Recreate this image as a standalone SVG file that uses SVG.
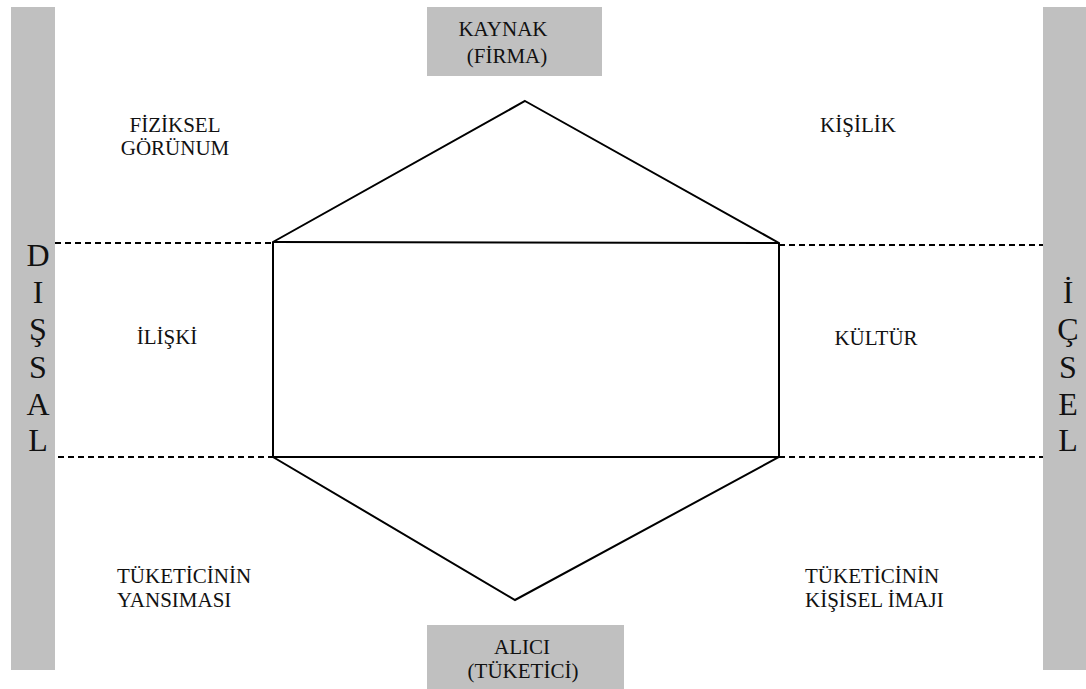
<svg xmlns="http://www.w3.org/2000/svg" width="1086" height="689" viewBox="0 0 1086 689">
<style>
.bar{fill:#c0c0c0}
text{font-family:"Liberation Serif",serif;fill:#111}
.t{font-size:21px}
.big{font-size:32px;text-anchor:middle}
.m{text-anchor:middle}
.solid{fill:none;stroke:#000;stroke-width:2;stroke-linejoin:miter}
.dash{fill:none;stroke:#000;stroke-width:2;stroke-dasharray:6 4}
</style>
<rect width="1086" height="689" fill="#fff"/>
<g id="disal">
<rect class="bar" x="11" y="7" width="44" height="663"/>
<text class="big" x="38" y="266">D</text>
<text class="big" x="38" y="303">I</text>
<text class="big" x="38" y="340">Ş</text>
<text class="big" x="38" y="378">S</text>
<text class="big" x="38" y="415">A</text>
<text class="big" x="38" y="451">L</text>
</g>
<g id="icsel">
<rect class="bar" x="1043" y="7" width="43" height="663"/>
<text class="big" x="1068" y="303">İ</text>
<text class="big" x="1068" y="340">Ç</text>
<text class="big" x="1068" y="378">S</text>
<text class="big" x="1068" y="415">E</text>
<text class="big" x="1068" y="451">L</text>
</g>
<g id="kaynak">
<rect class="bar" x="427" y="7" width="175" height="69"/>
<text class="t m" x="503" y="36">KAYNAK</text>
<text class="t m" x="507" y="63">(FİRMA)</text>
</g>
<g id="alici">
<rect class="bar" x="427" y="625" width="197" height="64"/>
<text class="t m" x="522" y="654">ALICI</text>
<text class="t m" x="523" y="678">(TÜKETİCİ)</text>
</g>
<g id="hexagon">
<polygon class="solid" points="525,101 779,243 779,457 515,600 273,457 273,242"/>
<line class="solid" x1="273" y1="242" x2="779" y2="243"/>
<line class="solid" x1="273" y1="457" x2="779" y2="457"/>
</g>
<g id="connectors">
<line class="dash" x1="55" y1="243" x2="273" y2="243"/>
<line class="dash" x1="779" y1="245" x2="1043" y2="245"/>
<line class="dash" x1="58" y1="457" x2="273" y2="457"/>
<line class="dash" x1="779" y1="457" x2="1043" y2="457"/>
</g>
<g id="fiziksel">
<text class="t m" x="175" y="132">FİZİKSEL</text>
<text class="t m" x="175" y="155">GÖRÜNUM</text>
</g>
<g id="kisilik"><text class="t m" x="858" y="132">KİŞİLİK</text></g>
<g id="iliski"><text class="t m" x="167" y="344">İLİŞKİ</text></g>
<g id="kultur"><text class="t m" x="876" y="345">KÜLTÜR</text></g>
<g id="yansima">
<text class="t" x="117" y="583">TÜKETİCİNİN</text>
<text class="t" x="117" y="607">YANSIMASI</text>
</g>
<g id="imaj">
<text class="t" x="805" y="583">TÜKETİCİNİN</text>
<text class="t" x="805" y="607">KİŞİSEL İMAJI</text>
</g>
</svg>
